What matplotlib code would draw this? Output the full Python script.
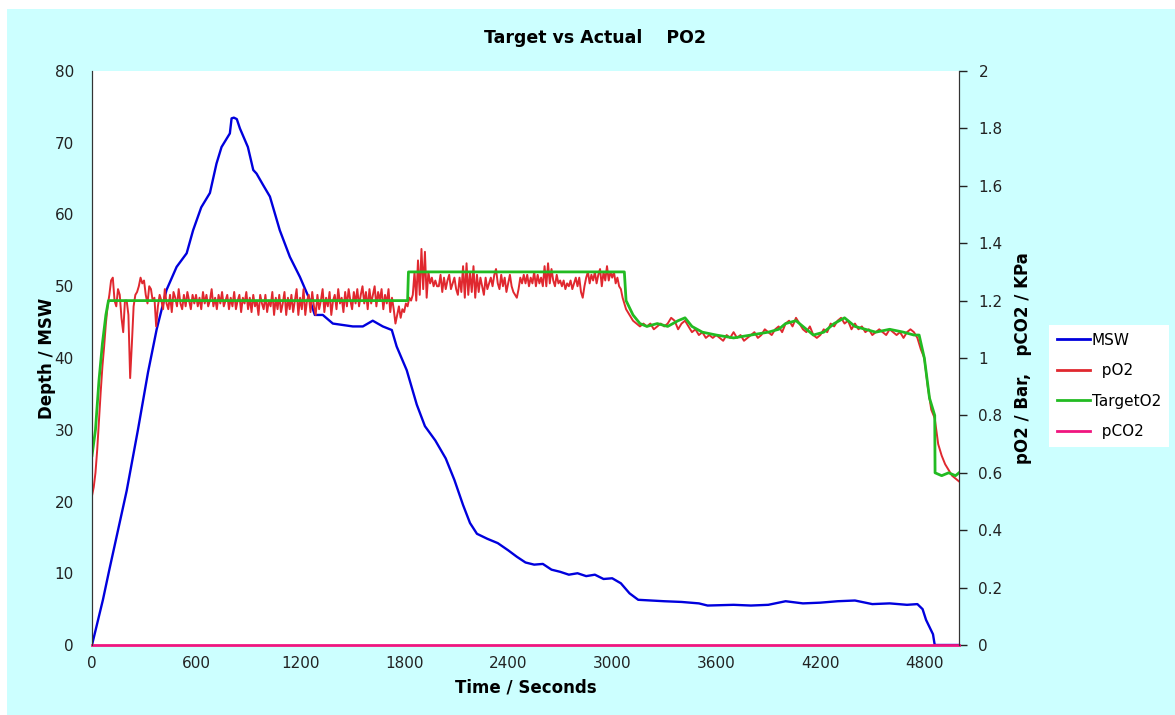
import matplotlib
matplotlib.use('Agg')
import matplotlib.pyplot as plt
from matplotlib.patches import Rectangle

# depth profile (seconds, metres sea water)
msw_t = [0, 30, 63, 100, 150, 200, 265, 323, 373, 430,
         488, 546, 583, 630, 680, 718, 747, 795, 805, 818,
         835, 853, 899, 930, 949, 987, 1026, 1083, 1141, 1199,
         1256, 1285, 1331, 1389, 1504, 1562, 1619, 1677, 1729, 1757,
         1815, 1873, 1920, 1980, 2040, 2090, 2140, 2180, 2220, 2280,
         2340, 2400, 2450, 2500, 2550, 2600, 2650, 2700, 2750, 2800,
         2850, 2900, 2950, 3000, 3050, 3100, 3150, 3300, 3400, 3500,
         3550, 3700, 3800, 3900, 4000, 4100, 4200, 4300, 4400, 4500,
         4600, 4700, 4760, 4790, 4810, 4830, 4850, 4860, 5000]
msw = [0, 3, 6.3, 10.5, 16, 21.5, 30, 38, 44, 49.5,
       52.7, 54.6, 57.8, 61, 63, 67.1, 69.4, 71.3, 73.4, 73.5,
       73.3, 72, 69.4, 66.2, 65.7, 64.1, 62.5, 57.8, 54.1, 51.3,
       48.1, 46, 46, 44.8, 44.4, 44.4, 45.2, 44.4, 43.9, 41.6,
       38.3, 33.5, 30.5, 28.5, 26, 23, 19.5, 17, 15.5, 14.8,
       14.2, 13.2, 12.3, 11.5, 11.2, 11.3, 10.5, 10.2, 9.8, 10,
       9.6, 9.8, 9.2, 9.3, 8.6, 7.2, 6.3, 6.1, 6.0, 5.8,
       5.5, 5.6, 5.5, 5.6, 6.1, 5.8, 5.9, 6.1, 6.2, 5.7,
       5.8, 5.6, 5.7, 5.0, 3.5, 2.5, 1.5, 0, 0]

# measured pO2: every 10 s up to 3090, then every 20 s to 5000
po2_t = list(range(0, 3100, 10)) + list(range(3100, 5001, 20))
po2 = [
    0.52, 0.55, 0.60, 0.68, 0.78, 0.88, 0.97, 1.04, 1.12, 1.18,   # 0
    1.22, 1.27, 1.28, 1.20, 1.18, 1.24, 1.22, 1.14, 1.09, 1.20,   # 100
    1.20, 1.15, 0.93, 1.05, 1.18, 1.22, 1.23, 1.25, 1.28, 1.26,   # 200
    1.27, 1.22, 1.19, 1.25, 1.24, 1.20, 1.21, 1.11, 1.18, 1.22,   # 300
    1.20, 1.17, 1.24, 1.19, 1.17, 1.22, 1.16, 1.23, 1.21, 1.18,   # 400
    1.24, 1.19, 1.17, 1.22, 1.18, 1.23, 1.20, 1.17, 1.22, 1.19,   # 500
    1.22, 1.18, 1.21, 1.17, 1.23, 1.19, 1.22, 1.18, 1.20, 1.24,   # 600
    1.18, 1.21, 1.17, 1.22, 1.19, 1.23, 1.18, 1.20, 1.22, 1.17,   # 700
    1.21, 1.18, 1.23, 1.17, 1.20, 1.22, 1.16, 1.21, 1.19, 1.23,   # 800
    1.17, 1.21, 1.16, 1.22, 1.18, 1.20, 1.15, 1.22, 1.19, 1.17,   # 900
    1.22, 1.16, 1.20, 1.18, 1.23, 1.15, 1.21, 1.17, 1.22, 1.16,   # 1000
    1.19, 1.23, 1.15, 1.21, 1.17, 1.22, 1.16, 1.20, 1.24, 1.15,   # 1100
    1.21, 1.17, 1.24, 1.15, 1.20, 1.22, 1.16, 1.23, 1.18, 1.15,   # 1200
    1.22, 1.17, 1.20, 1.24, 1.16, 1.21, 1.18, 1.23, 1.15, 1.20,   # 1300
    1.22, 1.17, 1.24, 1.19, 1.21, 1.16, 1.23, 1.18, 1.24, 1.20,   # 1400
    1.17, 1.23, 1.19, 1.24, 1.18, 1.22, 1.25, 1.19, 1.23, 1.17,   # 1500
    1.24, 1.19, 1.22, 1.25, 1.18, 1.23, 1.20, 1.24, 1.17, 1.22,   # 1600
    1.19, 1.24, 1.16, 1.21, 1.17, 1.12, 1.15, 1.18, 1.14, 1.17,   # 1700
    1.16, 1.19, 1.18, 1.21, 1.20, 1.22, 1.30, 1.20, 1.34, 1.22,   # 1800
    1.38, 1.24, 1.37, 1.21, 1.30, 1.26, 1.28, 1.25, 1.27, 1.25,   # 1900
    1.25, 1.29, 1.23, 1.28, 1.24, 1.27, 1.29, 1.24, 1.26, 1.28,   # 2000
    1.24, 1.22, 1.28, 1.23, 1.32, 1.21, 1.33, 1.22, 1.30, 1.23,   # 2100
    1.32, 1.21, 1.29, 1.23, 1.28, 1.25, 1.22, 1.28, 1.24, 1.26,   # 2200
    1.28, 1.25, 1.29, 1.31, 1.26, 1.24, 1.29, 1.25, 1.28, 1.23,   # 2300
    1.26, 1.29, 1.25, 1.23, 1.22, 1.21, 1.24, 1.28, 1.26, 1.29,   # 2400
    1.26, 1.29, 1.25, 1.28, 1.26, 1.30, 1.25, 1.29, 1.26, 1.28,   # 2500
    1.25, 1.32, 1.25, 1.33, 1.26, 1.31, 1.27, 1.25, 1.29, 1.26,   # 2600
    1.27, 1.25, 1.27, 1.24, 1.26, 1.25, 1.27, 1.24, 1.26, 1.28,   # 2700
    1.25, 1.28, 1.23, 1.21, 1.25, 1.28, 1.30, 1.26, 1.29, 1.27,   # 2800
    1.30, 1.26, 1.29, 1.31, 1.25, 1.30, 1.27, 1.32, 1.27, 1.30,   # 2900
    1.28, 1.30, 1.26, 1.28, 1.25, 1.24, 1.21, 1.19, 1.17, 1.16,   # 3000
    1.15, 1.13, 1.12, 1.11, 1.12,                                 # 3100 (20 s)
    1.11, 1.12, 1.10, 1.11, 1.12, 1.11, 1.12, 1.14, 1.13, 1.10,   # 3200
    1.12, 1.13, 1.11, 1.09, 1.10, 1.08, 1.09, 1.07, 1.08, 1.07,   # 3400
    1.08, 1.07, 1.06, 1.08, 1.07, 1.09, 1.07, 1.08, 1.06, 1.07,   # 3600
    1.08, 1.09, 1.07, 1.08, 1.10, 1.09, 1.08, 1.10, 1.11, 1.09,   # 3800
    1.12, 1.13, 1.11, 1.14, 1.12, 1.10, 1.09, 1.11, 1.08, 1.07,   # 4000
    1.08, 1.10, 1.09, 1.12, 1.11, 1.13, 1.14, 1.12, 1.13, 1.10,   # 4200
    1.12, 1.10, 1.11, 1.09, 1.10, 1.08, 1.09, 1.10, 1.09, 1.08,   # 4400
    1.10, 1.09, 1.08, 1.09, 1.07, 1.09, 1.10, 1.09, 1.07, 1.03,   # 4600
    1.00, 0.90, 0.82, 0.79, 0.70, 0.66, 0.63, 0.61, 0.59, 0.58,   # 4800
    0.57,
]

# target pO2 set point
target_t = [0, 20, 40, 60, 80, 95, 1820, 1825, 3070, 3080, 3120, 3160, 3200, 3260,
            3320, 3380, 3420, 3460, 3520, 3600, 3700, 3800, 3900, 3960, 4000, 4060,
            4100, 4160, 4220, 4280, 4340, 4400, 4460, 4520, 4600, 4680, 4740, 4770,
            4800, 4830, 4860, 4862, 4900, 4940, 4980, 5000]
target = [0.66, 0.75, 0.92, 1.05, 1.15, 1.2, 1.2, 1.3, 1.3, 1.2, 1.15, 1.12, 1.11, 1.12,
          1.11, 1.13, 1.14, 1.11, 1.09, 1.08, 1.07, 1.08, 1.09, 1.10, 1.12, 1.13,
          1.11, 1.08, 1.09, 1.12, 1.14, 1.11, 1.10, 1.09, 1.10, 1.09, 1.08, 1.08,
          1.00, 0.86, 0.80, 0.60, 0.59, 0.60, 0.59, 0.60]

pco2_t = [0, 5000]
pco2 = [0, 0]

W, H = 1175, 715
fig = plt.figure(figsize=(W / 100, H / 100), dpi=100, facecolor='white')
fig.patches.append(Rectangle((7 / W, 0), 1, 1 - 9 / H, transform=fig.transFigure,
                             facecolor='#ccffff', edgecolor='none', zorder=-10))

ax = fig.add_axes([92 / W, 1 - 645 / H, (959 - 92) / W, (645 - 71) / H])
ax2 = ax.twinx()
ax.set_facecolor('white')

l1, = ax.plot(msw_t, msw, color='#0000dd', lw=1.7, label='MSW')
l2, = ax2.plot(po2_t, po2, color='#e0282f', lw=1.4, label='  pO2')
l3, = ax2.plot(target_t, target, color='#22bb22', lw=2.0, label='TargetO2')
l4, = ax2.plot(pco2_t, pco2, color='#f0157f', lw=2.0, label='  pCO2', clip_on=False)

ax.set_xlim(0, 5000)
ax.set_ylim(0, 80)
ax2.set_ylim(0, 2)
ax.set_xticks(range(0, 5000, 600))
ax.set_yticks(range(0, 81, 10))
ax2.set_yticks([0, 0.2, 0.4, 0.6, 0.8, 1, 1.2, 1.4, 1.6, 1.8, 2])
ax2.set_yticklabels(['0', '0.2', '0.4', '0.6', '0.8', '1', '1.2', '1.4', '1.6', '1.8', '2'])

for a in (ax, ax2):
    a.spines['top'].set_visible(False)
    a.spines['bottom'].set_visible(False)
    a.spines['left'].set_color('#333333')
    a.spines['right'].set_color('#333333')
ax.tick_params(axis='x', length=0, pad=8, labelsize=11, colors='#222222')
ax.tick_params(axis='y', length=0, pad=13, labelsize=11, colors='#222222')
ax2.tick_params(axis='y', length=6, width=1, pad=8, labelsize=11, colors='#222222')

ax.set_xlabel('Time / Seconds', fontsize=12, fontweight='bold', labelpad=5)
ax.set_ylabel('Depth / MSW', fontsize=12, fontweight='bold', labelpad=-1)
ax2.set_ylabel('pO2 / Bar,   pCO2 / KPa', fontsize=12, fontweight='bold', labelpad=8)
fig.text(595 / W, 1 - 38 / H, 'Target vs Actual    PO2', ha='center', va='center',
         fontsize=12.5, fontweight='bold')

leg = fig.legend(handles=[l1, l2, l3, l4], loc='upper left',
                 bbox_to_anchor=(1049 / W, 1 - 325 / H), fontsize=11,
                 frameon=True, fancybox=False, edgecolor='none', facecolor='white',
                 framealpha=1, handlelength=2.2, handletextpad=0.1,
                 labelspacing=1.02, borderpad=0.5, borderaxespad=0)
for h in leg.get_lines():
    h.set_linewidth(2.0)

fig.savefig('out.png', dpi=100, facecolor=fig.get_facecolor())
